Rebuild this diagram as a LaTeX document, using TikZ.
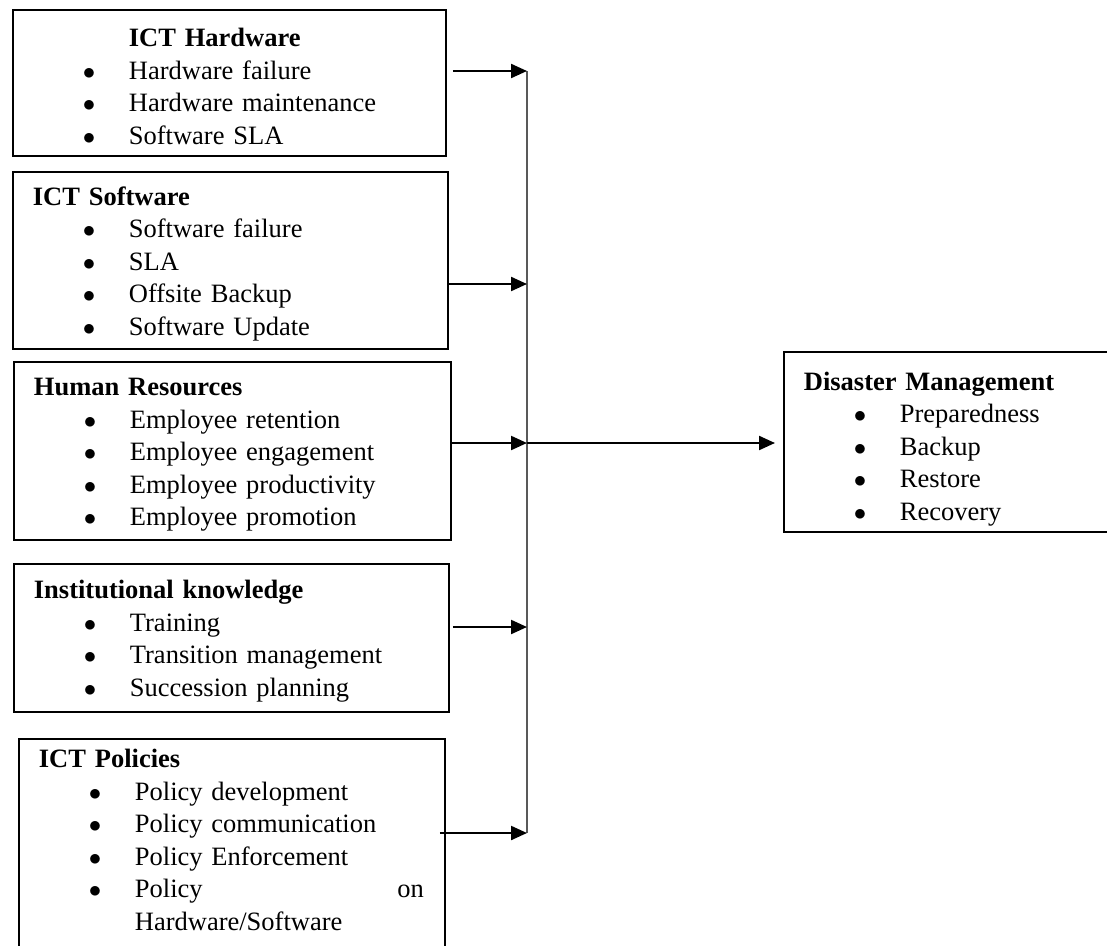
\documentclass[tikz,border=0pt]{standalone}
\usepackage{fontspec}
\setmainfont{Liberation Serif}
\usetikzlibrary{arrows.meta}
\newcommand{\itm}{\hspace*{50pt}\makebox[46pt][l]{$\bullet$}}

\begin{document}
\begin{tikzpicture}[x=1pt, y=-1pt,
    caja/.style={draw, line width=1.8pt, anchor=north west, inner xsep=20pt, inner ysep=0pt, text height=25pt, align=left, font=\fontsize{26.5}{32.5}\selectfont},
    flecha/.style={-{Triangle[length=16pt,width=14pt]}, line width=2.2pt},
    bus/.style={line width=1.4pt, black!65}]
    \useasboundingbox (0,0) rectangle (1107,945);

    % Cajas de factores
    \node[caja, text width=393pt, minimum height=146pt] (hw) at (12,9) {\hspace*{96pt}\textbf{ICT Hardware}\\ \itm Hardware failure\\ \itm Hardware maintenance\\ \itm Software SLA};
    \node[caja, text width=395pt, minimum height=177pt] (sw) at (12,171) {\textbf{ICT Software}\\ \itm Software failure\\ \itm SLA\\ \itm Offsite Backup\\ \itm Software Update};
    \node[caja, text width=397pt, minimum height=178pt] (hr) at (13,361) {\textbf{Human Resources}\\ \itm Employee retention\\ \itm Employee engagement\\ \itm Employee productivity\\ \itm Employee promotion};
    \node[caja, text width=395pt, minimum height=148pt] (ik) at (13,563) {\textbf{Institutional knowledge}\\ \itm Training\\ \itm Transition management\\ \itm Succession planning};
    \node[caja, text width=386pt, inner ysep=4pt, text depth=220pt] (pol) at (18,738) {\textbf{ICT Policies}\\ \itm Policy development\\ \itm Policy communication\\ \itm Policy Enforcement\\ \itm\makebox[289pt][l]{Policy\hfill on}\\ \hspace*{96pt}Hardware/Software};

    % Caja de resultado
    \node[caja, text width=300pt, minimum height=180pt, text height=32pt] (dm) at (783,351) {\textbf{Disaster Management}\\ \itm Preparedness\\ \itm Backup\\ \itm Restore\\ \itm Recovery};

    % Puntos sobre la barra vertical
    \coordinate (j1) at (527,71);
    \coordinate (j2) at (527,284);
    \coordinate (j3) at (527,443);
    \coordinate (j4) at (527,627);
    \coordinate (j5) at (527,833);

    % Flechas
    \draw[bus] (j1) -- (j5);
    \draw[flecha, shorten <=6pt] (hw.east |- j1) -- (j1);
    \draw[flecha] (sw.east |- j2) -- (j2);
    \draw[flecha] (hr.east |- j3) -- (j3);
    \draw[flecha, shorten <=3pt] (ik.east |- j4) -- (j4);
    \draw[flecha, shorten <=-6pt] (pol.east |- j5) -- (j5);
    \draw[flecha, shorten >=8pt] (j3) -- (dm.west |- j3);
\end{tikzpicture}
\end{document}
